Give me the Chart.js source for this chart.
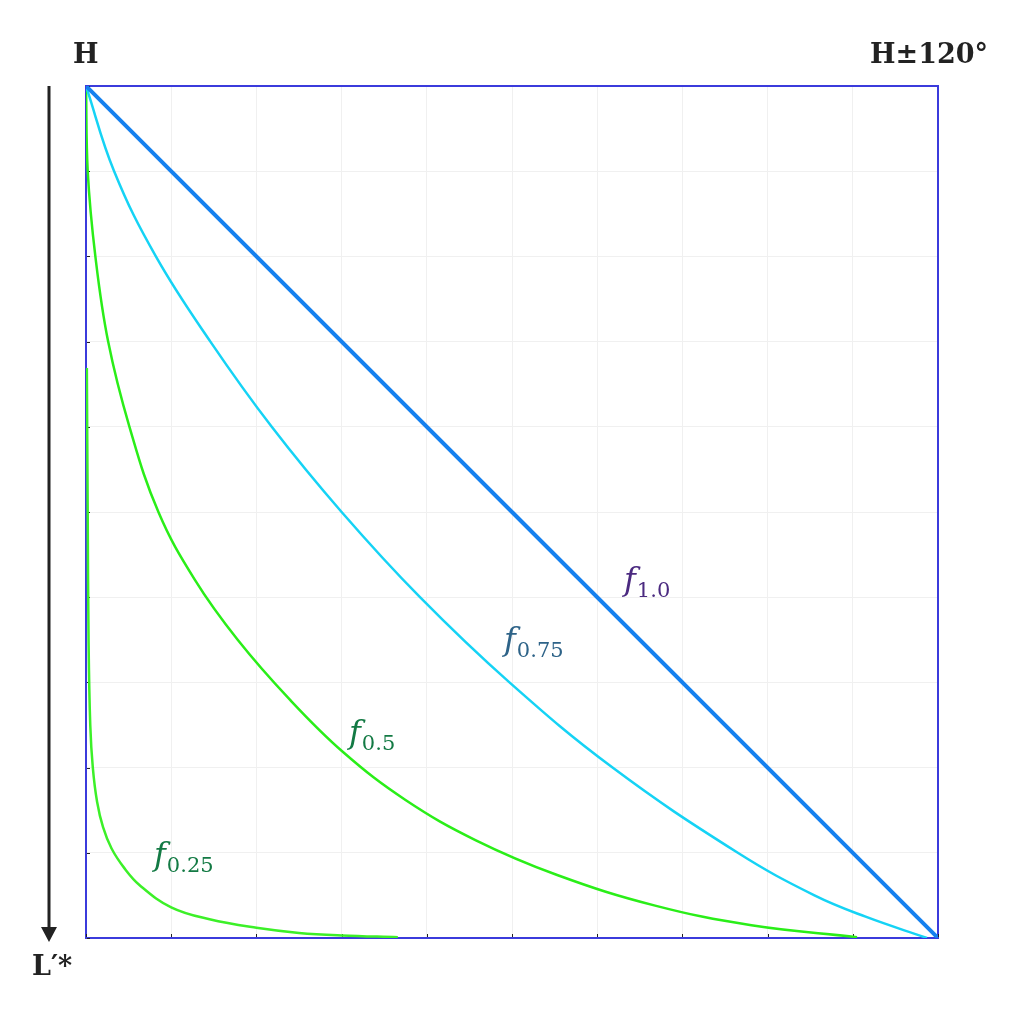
<!DOCTYPE html>
<html>
<head>
<meta charset="utf-8">
<script src="https://cdn.jsdelivr.net/npm/chart.js@4.4.0/dist/chart.umd.min.js"></script>
<style>
  html, body { margin: 0; padding: 0; background: #fff; }
  #wrap { position: relative; width: 1024px; height: 1024px; }
  #wrap canvas { position: absolute; left: 0; top: 0; }
  .hd { position: absolute; font-family: "DejaVu Serif", serif; font-weight: bold; font-size: 27px; line-height: 1; color: #222; white-space: nowrap; }
  .lab { position: absolute; line-height: 1; white-space: nowrap; }
  .lab i { font-family: "DejaVu Serif", serif; font-style: italic; font-size: 32px; }
  .lab sub { font-family: "DejaVu Serif", serif; font-size: 21px; vertical-align: -7px; margin-left: 1px; }
</style>
</head>
<body>
<div id="wrap">
  <canvas id="c" width="1024" height="1024"></canvas>
  <div class="hd" style="left:73px; top:40px;">H</div>
  <div class="hd" style="right:36px; top:40px;">H±120°</div>
  <div class="hd" style="left:32px; top:952px;">L′*</div>
  <div class="lab" style="left:624px; top:563px; color:#4b2a80;"><i>f</i><sub>1.0</sub></div>
  <div class="lab" style="left:504px; top:623px; color:#2e6388;"><i>f</i><sub>0.75</sub></div>
  <div class="lab" style="left:349px; top:716px; color:#137a44;"><i>f</i><sub>0.5</sub></div>
  <div class="lab" style="left:154px; top:838px; color:#137a44;"><i>f</i><sub>0.25</sub></div>
</div>
<script>
  // hue shift (x, 0 = H, 1 = H±120°) against lightness (y, downwards)
  var HUE_F100 = [0, 1];
  var LIGHT_F100 = [0, 1];

  var HUE_F075 = [0, 0.033, 0.082, 0.146, 0.218, 0.300, 0.392, 0.497, 0.618, 0.765, 0.855, 0.915, 0.987];
  var LIGHT_F075 = [0, 0.1, 0.2, 0.3, 0.4, 0.5, 0.6, 0.7, 0.8, 0.9, 0.95, 0.975, 1.0];

  var HUE_F050 = [0, 0.002, 0.011, 0.026, 0.051, 0.085, 0.128, 0.178, 0.239, 0.302, 0.375, 0.457, 0.553, 0.668, 0.781, 0.905];
  var LIGHT_F050 = [0, 0.1, 0.2, 0.3, 0.4, 0.5, 0.58, 0.65, 0.72, 0.782, 0.838, 0.885, 0.926, 0.962, 0.985, 0.999];

  var HUE_F025 = [0.001, 0.002, 0.003, 0.005, 0.008, 0.013, 0.020, 0.030, 0.045, 0.063, 0.10, 0.145, 0.20, 0.25, 0.30, 0.366];
  var LIGHT_F025 = [0.331, 0.5, 0.65, 0.75, 0.80, 0.84, 0.87, 0.895, 0.918, 0.938, 0.964, 0.978, 0.988, 0.994, 0.997, 0.999];

  var TICK_STEP = 0.1;

  function pts(hue, light) {
    return hue.map(function (h, i) { return { x: h, y: light[i] }; });
  }

  // frame, inward ticks and the L* arrow
  var framePlugin = {
    id: "frame",
    beforeDatasetsDraw: function (chart) {
      var ctx = chart.ctx, a = chart.chartArea;
      var xs = chart.scales.x, ys = chart.scales.y;
      ctx.save();
      ctx.strokeStyle = "#3b3bdc";
      ctx.lineWidth = 2;
      ctx.strokeRect(a.left, a.top, a.right - a.left, a.bottom - a.top);

      ctx.strokeStyle = "#222";
      ctx.lineWidth = 1;
      xs.ticks.forEach(function (t) {
        var px = Math.round(xs.getPixelForValue(t.value)) + 0.5;
        ctx.beginPath(); ctx.moveTo(px, a.bottom - 1); ctx.lineTo(px, a.bottom - 4); ctx.stroke();
      });
      ys.ticks.forEach(function (t) {
        var py = Math.round(ys.getPixelForValue(t.value)) + 0.5;
        ctx.beginPath(); ctx.moveTo(a.left + 1, py); ctx.lineTo(a.left + 4, py); ctx.stroke();
      });

      // arrow
      ctx.fillStyle = "#222";
      ctx.lineWidth = 3;
      ctx.beginPath(); ctx.moveTo(49, a.top); ctx.lineTo(49, a.bottom - 8); ctx.stroke();
      ctx.beginPath();
      ctx.moveTo(41, a.bottom - 11); ctx.lineTo(57, a.bottom - 11); ctx.lineTo(49, a.bottom + 4);
      ctx.closePath(); ctx.fill();
      ctx.restore();
    }
  };

  var lineDs = function (data, color, width) {
    return {
      data: data, borderColor: color, backgroundColor: color, borderWidth: width,
      showLine: true, pointRadius: 0, fill: false, tension: 0.4
    };
  };

  new Chart(document.getElementById("c"), {
    type: "scatter",
    data: {
      datasets: [
        lineDs(pts(HUE_F100, LIGHT_F100), "#1580ef", 4),
        lineDs(pts(HUE_F075, LIGHT_F075), "#15d3f5", 2.5),
        lineDs(pts(HUE_F050, LIGHT_F050), "#2aee18", 2.5),
        lineDs(pts(HUE_F025, LIGHT_F025), "#3cf028", 2.5)
      ]
    },
    options: {
      responsive: false,
      animation: false,
      layout: { padding: { left: 86, top: 86, right: 86, bottom: 86 } },
      plugins: { legend: { display: false }, tooltip: { enabled: false } },
      scales: {
        x: {
          type: "linear", min: 0, max: 1,
          ticks: { display: false, stepSize: TICK_STEP },
          grid: { color: "#f0f0f0", drawTicks: false },
          border: { display: false },
          afterFit: function (s) { s.height = 0; }
        },
        y: {
          type: "linear", min: 0, max: 1, reverse: true,
          ticks: { display: false, stepSize: TICK_STEP },
          grid: { color: "#f0f0f0", drawTicks: false },
          border: { display: false },
          afterFit: function (s) { s.width = 0; }
        }
      }
    },
    plugins: [framePlugin]
  });
</script>
</body>
</html>
